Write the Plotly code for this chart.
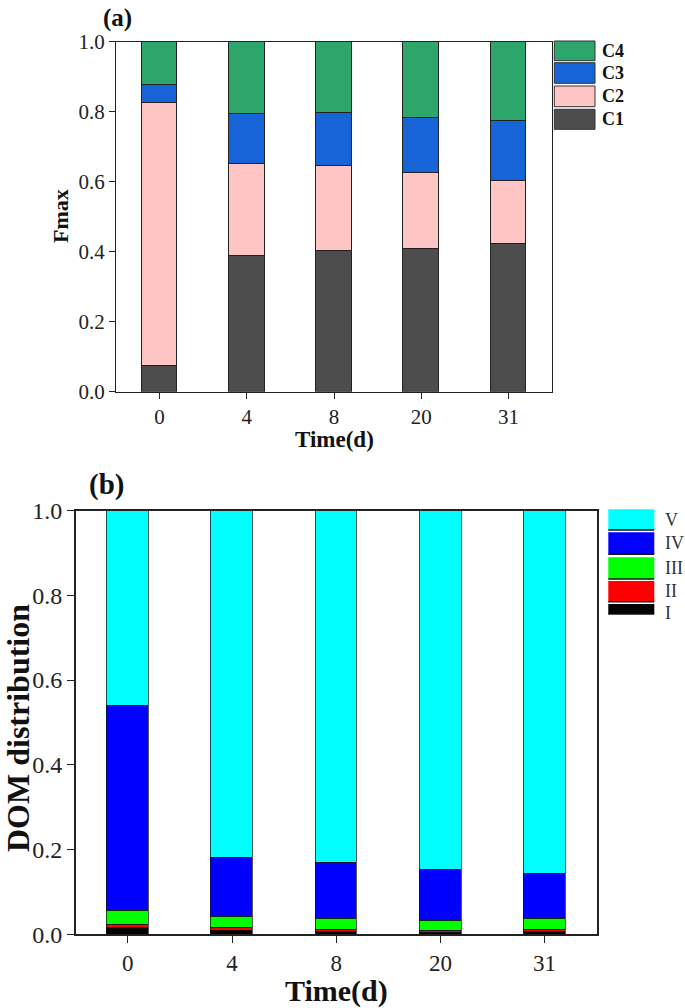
import plotly.graph_objects as go

# ---------------- data ----------------
times = ["0", "4", "8", "20", "31"]

# panel (a) Fmax fractions
c1 = [0.075, 0.390, 0.403, 0.410, 0.423]
c2 = [0.750, 0.262, 0.244, 0.215, 0.180]
c3 = [0.052, 0.141, 0.149, 0.159, 0.170]
c4 = [0.123, 0.207, 0.204, 0.216, 0.227]

# panel (b) DOM distribution (regions I-V)
r1 = [0.016, 0.010, 0.006, 0.005, 0.006]
r2 = [0.008, 0.005, 0.005, 0.004, 0.005]
r3 = [0.031, 0.026, 0.027, 0.023, 0.026]
r4 = [0.485, 0.140, 0.132, 0.120, 0.106]
r5 = [0.460, 0.819, 0.830, 0.848, 0.857]

y_ticks = [0.0, 0.2, 0.4, 0.6, 0.8, 1.0]
y_tick_text = ["0.0", "0.2", "0.4", "0.6", "0.8", "1.0"]

a_names = ["C1", "C2", "C3", "C4"]
a_colors = ["#4d4d4d", "#ffc4c4", "#1763d8", "#2ca66a"]
b_names = ["I", "II", "III", "IV", "V"]
b_colors = ["#000000", "#ff0000", "#00ff00", "#0000ff", "#00ffff"]

W, H = 685, 1008
SERIF = "Liberation Serif, Times New Roman, serif"

def px(x):
    return x / W

def py(y):
    return 1 - y / H

fig = go.Figure()

for name, vals, col in zip(a_names, [c1, c2, c3, c4], a_colors):
    fig.add_trace(go.Bar(x=times, y=vals, name=name, marker_color=col,
                         marker_line=dict(color="#222222", width=1),
                         width=0.41, xaxis="x", yaxis="y", showlegend=False))

for name, vals, col in zip(b_names, [r1, r2, r3, r4, r5], b_colors):
    fig.add_trace(go.Bar(x=times, y=vals, name=name, marker_color=col,
                         marker_line=dict(color="#111111", width=0.7),
                         width=0.40, xaxis="x2", yaxis="y2", showlegend=False))

common_axis = dict(showline=True, mirror=True, linecolor="#222222",
                   showgrid=False, zeroline=False, ticks="outside",
                   tickcolor="#222222", automargin=False)

fig.update_layout(
    width=W, height=H, barmode="stack", bargap=0,
    margin=dict(l=0, r=0, t=0, b=0, autoexpand=False),
    paper_bgcolor="white", plot_bgcolor="white",
    font=dict(family=SERIF, color="#222222"),
    xaxis=dict(domain=[px(116), px(552)], anchor="y", type="category",
               range=[-0.5, 4.5], ticklen=6, linewidth=1.2,
               tickfont=dict(size=21, family=SERIF), **common_axis),
    yaxis=dict(domain=[py(391.7), py(41.7)], anchor="x", range=[0, 1],
               tickvals=y_ticks, ticktext=y_tick_text, ticklen=6, linewidth=1.2,
               tickfont=dict(size=21, family=SERIF), **common_axis),
    xaxis2=dict(domain=[px(75.7), px(596.7)], anchor="y2", type="category",
                range=[-0.5, 4.5], ticklen=7, linewidth=1.5,
                tickfont=dict(size=23, family=SERIF), **common_axis),
    yaxis2=dict(domain=[py(934.3), py(510.5)], anchor="x2", range=[0, 1],
                tickvals=y_ticks, ticktext=y_tick_text, ticklen=7, linewidth=1.5,
                tickfont=dict(size=24, family=SERIF), **common_axis),
)

ann = []
def text(x, y, s, size, bold=True, angle=0, color="#111111", xanchor="center"):
    ann.append(dict(x=px(x), y=py(y), xref="paper", yref="paper", text=(f"<b>{s}</b>" if bold else s),
                    showarrow=False, textangle=angle, xanchor=xanchor, yanchor="middle",
                    font=dict(family=SERIF, size=size, color=color)))

# titles / labels
text(117, 18, "(a)", 25)
text(106, 484, "(b)", 29)
text(334, 439, "Time(d)", 23)
text(60, 216, "Fmax", 22, angle=-90)
text(336, 991, "Time(d)", 30)
text(18, 728, "DOM distribution", 32, angle=-90)

shapes = []
# legend (a)
leg_a = [("C4", a_colors[3], 41, 60.7), ("C3", a_colors[2], 62.7, 83.3),
         ("C2", a_colors[1], 86, 106.7), ("C1", a_colors[0], 109.3, 129.3)]
for lab, col, y0, y1 in leg_a:
    shapes.append(dict(type="rect", xref="paper", yref="paper", x0=px(554.3), x1=px(595),
                       y0=py(y1), y1=py(y0), fillcolor=col, line=dict(color="#333333", width=1)))
    text(600, (y0 + y1) / 2, lab, 18, xanchor="left")

# legend (b)
leg_b = [("V", b_colors[4], 509.3, 530), ("IV", b_colors[3], 532.3, 554.3),
         ("III", b_colors[2], 557.3, 579), ("II", b_colors[1], 581, 601.7),
         ("I", b_colors[0], 604, 614)]
for lab, col, y0, y1 in leg_b:
    shapes.append(dict(type="rect", xref="paper", yref="paper", x0=px(608.3), x1=px(654.3),
                       y0=py(y1), y1=py(y0), fillcolor=col, line=dict(width=0)))
    shapes.append(dict(type="line", xref="paper", yref="paper", x0=px(608.3), x1=px(654.3),
                       y0=py(y1), y1=py(y1), line=dict(color="#111111", width=1.5)))
    text(663, (y0 + y1) / 2 + (4 if lab == "I" else 0), lab, 18, bold=False, color="#333333", xanchor="left")

fig.update_layout(annotations=ann, shapes=shapes)

fig.write_html("out.html", config={"displayModeBar": False},
               post_script="document.body.style.margin='0';document.body.style.overflow='hidden';")
